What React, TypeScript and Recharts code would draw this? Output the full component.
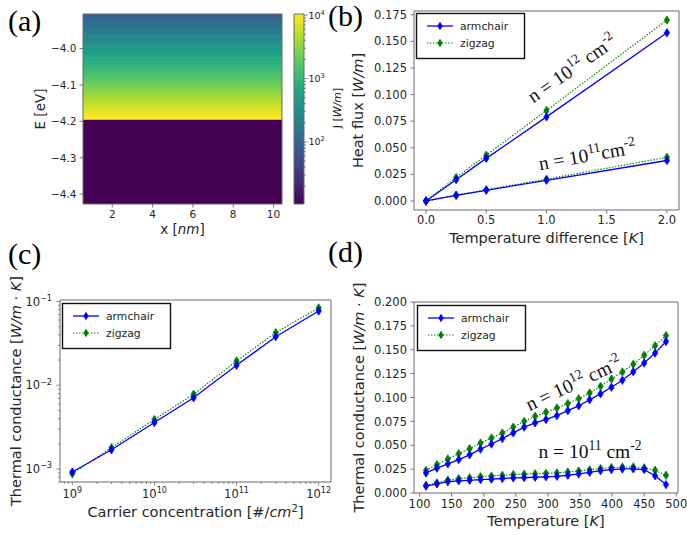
import React from "react";
import { ComposedChart, LineChart, Line, XAxis, YAxis, ReferenceArea } from "recharts";

const SANS = "'DejaVu Sans', Verdana, sans-serif";
const SERIF = "'Liberation Serif', 'Times New Roman', serif";
const INK = "#262626";
const FRAME = "#6a6a6a";
const BLUE = "#0000ff";
const GREEN = "#008000";

// (a) energy resolved heat current, bands of 0.01 eV (lower edge) and J in W/m
const bandLowE = [
  -4.195, -4.185, -4.175, -4.165, -4.155, -4.145, -4.135, -4.125, -4.115, -4.105,
  -4.095, -4.085, -4.075, -4.065, -4.055, -4.045, -4.035, -4.025, -4.015, -4.005,
  -3.995, -3.985, -3.975, -3.965, -3.955, -3.945, -3.935, -3.925, -3.915,
];
const bandJ = [
  10000, 8800, 7400, 6300, 5300, 4500, 3800, 3200, 2700, 2300,
  1900, 1600, 1400, 1150, 970, 820, 690, 590, 490, 420,
  350, 300, 250, 210, 180, 150, 127, 107, 91,
];
const gapLowE = -4.427;
const gapTopE = -4.195;
const gapJ = 10.5;
const posTicks = [2, 4, 6, 8, 10];
const energyTicks = [-4.4, -4.3, -4.2, -4.1, -4.0];
const cbMin = 10.5;
const cbMax = 10400;
const cbDecades = [100, 1000, 10000];

// (b) heat flux vs temperature difference
const deltaT = [0, 0.25, 0.5, 1, 2];
const fluxArm12 = [0, 0.02, 0.04, 0.079, 0.158];
const fluxZig12 = [0, 0.022, 0.043, 0.085, 0.17];
const fluxArm11 = [0, 0.0052, 0.01, 0.0194, 0.038];
const fluxZig11 = [0, 0.0055, 0.0105, 0.0205, 0.041];
const dTTicks = [0, 0.5, 1, 1.5, 2];
const fluxTicks = [0, 0.025, 0.05, 0.075, 0.1, 0.125, 0.15, 0.175];

// (c) conductance vs carrier concentration
const carrier = [1e9, 3e9, 1e10, 3e10, 1e11, 3e11, 1e12];
const condArm = [0.00092, 0.0017, 0.0036, 0.0071, 0.0173, 0.038, 0.077];
const condZig = [0.00088, 0.0018, 0.0039, 0.0078, 0.0195, 0.0425, 0.084];
const carrierDecades = [1e9, 1e10, 1e11, 1e12];
const condDecades = [1e-3, 1e-2, 1e-1];

// (d) conductance vs temperature
const temps = [110, 127, 144, 161, 178, 195, 212, 229, 246, 263, 280, 297, 314, 331, 348, 365, 382, 399, 416, 433, 450, 467, 484];
const kArm12 = [0.021, 0.026, 0.0305, 0.035, 0.04, 0.046, 0.0513, 0.057, 0.063, 0.069, 0.0735, 0.077, 0.081, 0.0862, 0.0913, 0.0976, 0.1038, 0.1108, 0.118, 0.127, 0.1361, 0.1465, 0.1587];
const kZig12 = [0.0237, 0.0297, 0.0356, 0.0412, 0.0464, 0.0524, 0.0576, 0.0628, 0.069, 0.075, 0.0803, 0.0845, 0.089, 0.0936, 0.0988, 0.1047, 0.1117, 0.1194, 0.1267, 0.1348, 0.1442, 0.1543, 0.1648];
const kArm11 = [0.0073, 0.0095, 0.0118, 0.0128, 0.0133, 0.014, 0.0145, 0.0152, 0.0158, 0.0161, 0.0165, 0.0169, 0.0175, 0.0186, 0.02, 0.0217, 0.0234, 0.0245, 0.0252, 0.0253, 0.0245, 0.018, 0.0088];
const kZig11 = [0.008, 0.0105, 0.0135, 0.015, 0.016, 0.017, 0.0177, 0.0185, 0.0193, 0.0198, 0.0202, 0.0206, 0.0211, 0.022, 0.023, 0.0243, 0.0257, 0.0266, 0.0272, 0.0273, 0.0264, 0.0238, 0.0186];
const tempTicks = [100, 150, 200, 250, 300, 350, 400, 450, 500];
const kTicks = [0, 0.025, 0.05, 0.075, 0.1, 0.125, 0.15, 0.175, 0.2];

const tableB = deltaT.map((dt, i) => ({ dt, a12: fluxArm12[i], z12: fluxZig12[i], a11: fluxArm11[i], z11: fluxZig11[i] }));
const tableC = carrier.map((n, i) => ({ n, a: condArm[i], z: condZig[i] }));
const tableD = temps.map((T, i) => ({ T, a12: kArm12[i], z12: kZig12[i], a11: kArm11[i], z11: kZig11[i] }));

// minor ticks of a log axis
function logMinors(lo: number, hi: number) {
  const out: number[] = [];
  for (let d = Math.floor(Math.log10(lo)); d <= Math.ceil(Math.log10(hi)); d++) {
    for (let m = 2; m <= 9; m++) {
      const v = Number((m * Math.pow(10, d)).toPrecision(6));
      if (v >= lo && v <= hi) out.push(v);
    }
  }
  return out;
}
const isDecade = (v: number) => Math.abs(Math.log10(v) - Math.round(Math.log10(v))) < 1e-6;

const VIRIDIS = ["#440154", "#482475", "#414487", "#355f8d", "#2a788e", "#21918c", "#22a884", "#44bf70", "#7ad151", "#bddf26", "#fde725"];
function hex(c: string) {
  return [1, 3, 5].map((k) => parseInt(c.slice(k, k + 2), 16));
}
function viridis(t: number) {
  const s = Math.max(0, Math.min(1, t)) * 10;
  const i = Math.min(9, Math.floor(s));
  const f = s - i;
  const a = hex(VIRIDIS[i]);
  const b = hex(VIRIDIS[i + 1]);
  const m = a.map((v, k) => Math.round(v + (b[k] - v) * f));
  return `rgb(${m[0]},${m[1]},${m[2]})`;
}
const jColor = (j: number) =>
  viridis((Math.log10(j) - Math.log10(cbMin)) / (Math.log10(cbMax) - Math.log10(cbMin)));

type Fmt = (v: number) => string;
const minus = (s: string) => s.replace("-", "\u2212");

const bottomTick = (fmt: Fmt, gap: number, fs: number) => (p: any) => (
  <g>
    <line x1={p.x} x2={p.x} y1={p.y} y2={p.y + 3.5} stroke={FRAME} strokeWidth={0.9} />
    <text x={p.x} y={p.y + gap} textAnchor="middle" fontFamily={SANS} fontSize={fs} fill={INK}>
      {fmt(p.payload.value)}
    </text>
  </g>
);

const leftTick = (fmt: Fmt, pad: number, fs: number) => (p: any) => (
  <g>
    <line x1={p.x - 3.5} x2={p.x} y1={p.y} y2={p.y} stroke={FRAME} strokeWidth={0.9} />
    <text x={p.x - pad} y={p.y + fs * 0.36} textAnchor="end" fontFamily={SANS} fontSize={fs} fill={INK}>
      {fmt(p.payload.value)}
    </text>
  </g>
);

const logBottomTick = (gap: number, fs: number) => (p: any) => {
  const v = p.payload.value;
  const major = isDecade(v);
  return (
    <g>
      <line x1={p.x} x2={p.x} y1={p.y} y2={p.y + (major ? 3.5 : 2)} stroke={FRAME} strokeWidth={0.8} />
      {major && (
        <text x={p.x} y={p.y + gap} textAnchor="middle" fontFamily={SANS} fontSize={fs} fill={INK}>
          10
          <tspan dy={-fs * 0.42} fontSize={fs * 0.7}>{minus(String(Math.round(Math.log10(v))))}</tspan>
        </text>
      )}
    </g>
  );
};

const logSideTick = (side: "left" | "right", pad: number, fs: number) => (p: any) => {
  const v = p.payload.value;
  const major = isDecade(v);
  const s = side === "left" ? -1 : 1;
  const len = major ? 3.5 : 2;
  return (
    <g>
      <line x1={p.x} x2={p.x + s * len} y1={p.y} y2={p.y} stroke={FRAME} strokeWidth={0.8} />
      {major && (
        <text x={p.x + s * pad} y={p.y + fs * 0.36} textAnchor={side === "left" ? "end" : "start"} fontFamily={SANS} fontSize={fs} fill={INK}>
          10
          <tspan dy={-fs * 0.42} fontSize={fs * 0.7}>{minus(String(Math.round(Math.log10(v))))}</tspan>
        </text>
      )}
    </g>
  );
};

function diamond(color: string) {
  return (p: any) => {
    const { cx, cy, index } = p;
    if (typeof cx !== "number" || typeof cy !== "number") return <g key={`e-${index}`} />;
    return (
      <polygon
        key={`d-${index}`}
        points={`${cx},${cy - 4.2} ${cx + 2.7},${cy} ${cx},${cy + 4.2} ${cx - 2.7},${cy}`}
        fill={color}
        stroke={color}
        strokeWidth={0.7}
      />
    );
  };
}

const solid = { stroke: BLUE, strokeWidth: 1.3, dot: diamond(BLUE), activeDot: false as const, isAnimationActive: false, type: "linear" as const };
const dotted = { stroke: GREEN, strokeWidth: 1.2, strokeDasharray: "1.4 1.6", dot: diamond(GREEN), activeDot: false as const, isAnimationActive: false, type: "linear" as const };

function Frame({ x, y }: { x: [number, number]; y: [number, number] }) {
  return <ReferenceArea x1={x[0]} x2={x[1]} y1={y[0]} y2={y[1]} fill="none" stroke={FRAME} strokeWidth={1} ifOverflow="visible" />;
}

function Box({ l, t, children }: { l: number; t: number; children: React.ReactNode }) {
  return <div style={{ position: "absolute", left: l, top: t }}>{children}</div>;
}

function HeatPanel() {
  const xd: [number, number] = [0.55, 10.42];
  const yd: [number, number] = [gapLowE, -3.905];
  return (
    <ComposedChart width={290} height={240} margin={{ top: 14, right: 8, bottom: 6, left: 0 }}>
      <XAxis type="number" dataKey="x" domain={xd} allowDataOverflow ticks={posTicks} interval={0} height={30}
        tickSize={0} tickMargin={0} tickLine={false} axisLine={false} tick={bottomTick((v) => String(v), 13.5, 10.5)} />
      <YAxis type="number" domain={yd} allowDataOverflow ticks={energyTicks} interval={0} width={83}
        tickSize={0} tickMargin={0} tickLine={false} axisLine={false} tick={leftTick((v) => minus(v.toFixed(1)), 6.5, 10.5)} />
      <ReferenceArea x1={xd[0]} x2={xd[1]} y1={gapLowE} y2={gapTopE} fill={jColor(gapJ)} fillOpacity={1} ifOverflow="hidden" />
      {/* each band overlaps the next one slightly so no seams show */}
      {bandLowE.map((e, i) => (
        <ReferenceArea key={i} x1={xd[0]} x2={xd[1]} y1={e} y2={e + 0.0115} fill={jColor(bandJ[i])} fillOpacity={1}
          ifOverflow="hidden" />
      ))}
      <Frame x={xd} y={yd} />
    </ComposedChart>
  );
}

function ColorBar() {
  const cbTicks = [...cbDecades, ...logMinors(cbMin, cbMax)];
  return (
    <ComposedChart width={52} height={240} margin={{ top: 14, right: 0, bottom: 36, left: 6 }}>
      <defs>
        <linearGradient id="viridisBar" x1="0" y1="1" x2="0" y2="0">
          {VIRIDIS.map((c, i) => (
            <stop key={i} offset={`${i * 10}%`} stopColor={c} />
          ))}
        </linearGradient>
      </defs>
      <XAxis type="number" dataKey="x" domain={[0, 1]} allowDataOverflow height={0}
        tick={false} tickLine={false} axisLine={false} />
      <YAxis orientation="right" type="number" scale="log" domain={[cbMin, cbMax]} allowDataOverflow ticks={cbTicks}
        interval={0} width={36} tickSize={0} tickMargin={0} tickLine={false} axisLine={false} tick={logSideTick("right", 4.5, 9.5)} />
      <ReferenceArea x1={0} x2={1} y1={cbMin} y2={cbMax} fill="url(#viridisBar)" fillOpacity={1} ifOverflow="visible" />
      <Frame x={[0, 1]} y={[cbMin, cbMax]} />
    </ComposedChart>
  );
}

function FluxPanel() {
  const xd: [number, number] = [-0.1, 2.1];
  const yd: [number, number] = [-0.0085, 0.1785];
  return (
    <LineChart width={347} height={245} data={tableB} margin={{ top: 11, right: 8, bottom: 5, left: 0 }}>
      <XAxis type="number" dataKey="dt" domain={xd} allowDataOverflow ticks={dTTicks} interval={0} height={30}
        tickSize={0} tickMargin={0} tickLine={false} axisLine={false} tick={bottomTick((v) => v.toFixed(1), 13.5, 11.5)} />
      <YAxis type="number" domain={yd} allowDataOverflow ticks={fluxTicks} interval={0} width={74}
        tickSize={0} tickMargin={0} tickLine={false} axisLine={false} tick={leftTick((v) => v.toFixed(3), 7, 11.5)} />
      <Line dataKey="z12" {...dotted} />
      <Line dataKey="z11" {...dotted} />
      <Line dataKey="a12" {...solid} />
      <Line dataKey="a11" {...solid} />
      <Frame x={xd} y={yd} />
    </LineChart>
  );
}

function CarrierPanel() {
  const xd: [number, number] = [7.08e8, 1.413e12];
  const yd: [number, number] = [7.0e-4, 0.1042];
  const xt = [...carrierDecades, ...logMinors(xd[0], xd[1])];
  const yt = [...condDecades, ...logMinors(yd[0], yd[1])];
  return (
    <LineChart width={340} height={285} data={tableC} margin={{ top: 50, right: 9, bottom: 23, left: 0 }}>
      <XAxis type="number" dataKey="n" scale="log" domain={xd} allowDataOverflow ticks={xt} interval={0} height={30}
        tickSize={0} tickMargin={0} tickLine={false} axisLine={false} tick={logBottomTick(16, 11.5)} />
      <YAxis type="number" scale="log" domain={yd} allowDataOverflow ticks={yt} interval={0} width={60}
        tickSize={0} tickMargin={0} tickLine={false} axisLine={false} tick={logSideTick("left", 8, 11.5)} />
      <Line dataKey="z" {...dotted} />
      <Line dataKey="a" {...solid} />
      <Frame x={xd} y={yd} />
    </LineChart>
  );
}

function TempPanel() {
  const xd: [number, number] = [91.3, 502.7];
  const yd: [number, number] = [0, 0.2];
  return (
    <LineChart width={347} height={285} data={tableD} margin={{ top: 52, right: 9, bottom: 12, left: 0 }}>
      <XAxis type="number" dataKey="T" domain={xd} allowDataOverflow ticks={tempTicks} interval={0} height={30}
        tickSize={0} tickMargin={0} tickLine={false} axisLine={false} tick={bottomTick((v) => String(v), 14.5, 11.5)} />
      <YAxis type="number" domain={yd} allowDataOverflow ticks={kTicks} interval={0} width={74}
        tickSize={0} tickMargin={0} tickLine={false} axisLine={false} tick={leftTick((v) => v.toFixed(3), 7, 11.5)} />
      <Line dataKey="z12" {...dotted} />
      <Line dataKey="z11" {...dotted} />
      <Line dataKey="a12" {...solid} />
      <Line dataKey="a11" {...solid} />
      <Frame x={xd} y={yd} />
    </LineChart>
  );
}

function LegendBox({ l, t }: { l: number; t: number }) {
  const rows = [
    { label: "armchair", color: BLUE, dash: undefined as string | undefined, w: 1.3 },
    { label: "zigzag", color: GREEN, dash: "1.4 1.6", w: 1.2 },
  ];
  return (
    <g>
      <rect x={l + 0.5} y={t + 0.5} width={108} height={45} fill="#fff" stroke="#111" strokeWidth={1.4} />
      {rows.map((r, i) => {
        const cy = t + 13 + i * 17;
        const cx = l + 24;
        return (
          <g key={r.label}>
            <line x1={l + 11} x2={l + 37} y1={cy} y2={cy} stroke={r.color} strokeWidth={r.w} strokeDasharray={r.dash} />
            <polygon points={`${cx},${cy - 4.2} ${cx + 2.7},${cy} ${cx},${cy + 4.2} ${cx - 2.7},${cy}`} fill={r.color} />
            <text x={l + 44} y={cy + 3.9} fontFamily={SANS} fontSize={10.8} fill={INK}>{r.label}</text>
          </g>
        );
      })}
    </g>
  );
}

function NLabel({ cx, cy, angle, exp, gap }: { cx: number; cy: number; angle: number; exp: string; gap: boolean }) {
  const fs = 19.5;
  return (
    <text x={cx} y={cy + fs * 0.3} textAnchor="middle" transform={`rotate(${angle} ${cx} ${cy})`} fontFamily={SERIF} fontSize={fs} fill="#111">
      n = 10
      <tspan dy={-fs * 0.42} fontSize={fs * 0.7}>{exp}</tspan>
      <tspan dy={fs * 0.42}>{gap ? " cm" : "cm"}</tspan>
      <tspan dy={-fs * 0.42} fontSize={fs * 0.7}>-2</tspan>
    </text>
  );
}

function Overlay() {
  const t = { fontFamily: SANS, fill: INK } as const;
  return (
    <svg width={687} height={535} style={{ position: "absolute", left: 0, top: 0, pointerEvents: "none" }}>
      {/* panel tags */}
      <g fontFamily={SERIF} fontSize={30} fill="#000">
        <text x={8} y={31}>(a)</text>
        <text x={328} y={26}>(b)</text>
        <text x={8} y={264}>(c)</text>
        <text x={328} y={262}>(d)</text>
      </g>

      {/* axis titles */}
      <text {...t} fontSize={13.5} x={45} y={109} textAnchor="middle" transform="rotate(-90 45 109)">E [eV]</text>
      <text {...t} fontSize={13.5} x={182.5} y={234} textAnchor="middle">
        x [<tspan fontStyle="italic">nm</tspan>]
      </text>
      <text {...t} fontSize={11} x={341} y={108} textAnchor="middle" transform="rotate(-90 341 108)">
        J [<tspan fontStyle="italic">W/m</tspan>]
      </text>
      <text {...t} fontSize={14.5} x={363} y={110.5} textAnchor="middle" transform="rotate(-90 363 110.5)">
        Heat flux [<tspan fontStyle="italic">W/m</tspan>]
      </text>
      <text {...t} fontSize={14.5} x={546.5} y={243} textAnchor="middle">
        Temperature difference [<tspan fontStyle="italic">K</tspan>]
      </text>
      <text {...t} fontSize={14.5} x={21} y={391} textAnchor="middle" transform="rotate(-90 21 391)">
        Thermal conductance [<tspan fontStyle="italic">W/m</tspan> · <tspan fontStyle="italic">K</tspan>]
      </text>
      <text {...t} fontSize={14.5} x={195.5} y={517} textAnchor="middle">
        Carrier concentration [#/<tspan fontStyle="italic">cm</tspan>
        <tspan dy={-5.5} fontSize={10}>2</tspan>
        <tspan dy={5.5}>]</tspan>
      </text>
      <text {...t} fontSize={14.5} x={364} y={397.5} textAnchor="middle" transform="rotate(-90 364 397.5)">
        Thermal conductance [<tspan fontStyle="italic">W/m</tspan> · <tspan fontStyle="italic">K</tspan>]
      </text>
      <text {...t} fontSize={14.5} x={546} y={526} textAnchor="middle">
        Temperature [<tspan fontStyle="italic">K</tspan>]
      </text>

      {/* carrier density annotations */}
      <NLabel cx={572.5} cy={69} angle={-35} exp="12" gap />
      <NLabel cx={587.5} cy={156} angle={-10} exp="11" gap={false} />
      <NLabel cx={574} cy={384} angle={-25} exp="12" gap />
      <NLabel cx={590} cy={452.5} angle={0} exp="11" gap />

      <LegendBox l={416} t={13} />
      <LegendBox l={62} t={303} />
      <LegendBox l={417} t={305} />
    </svg>
  );
}

export default function App() {
  return (
    <div style={{ position: "absolute", left: 0, top: 0, width: 687, height: 535, background: "#fff", overflow: "hidden" }}>
      <Box l={0} t={0}><HeatPanel /></Box>
      <Box l={288} t={0}><ColorBar /></Box>
      <Box l={340} t={0}><FluxPanel /></Box>
      <Box l={0} t={250}><CarrierPanel /></Box>
      <Box l={340} t={250}><TempPanel /></Box>
      <Overlay />
    </div>
  );
}
